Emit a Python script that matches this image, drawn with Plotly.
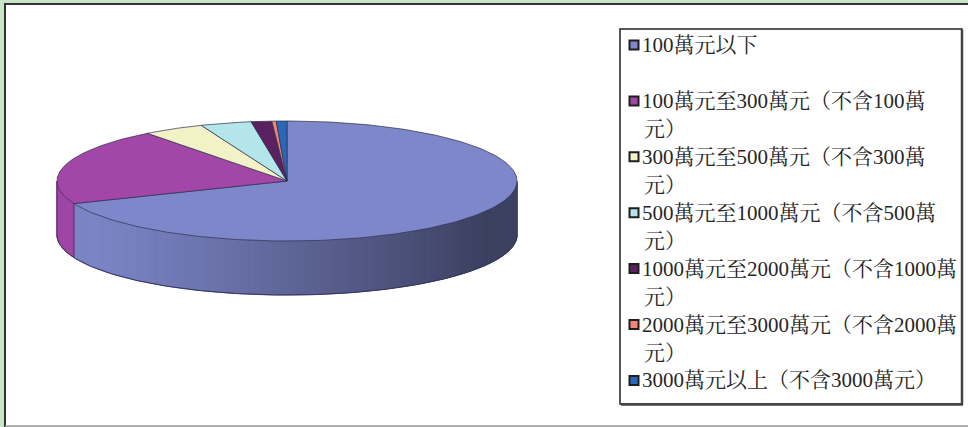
import numpy as np
import plotly.graph_objects as go

# ---- data ----
categories = [
    "100萬元以下",
    "100萬元至300萬元（不含100萬元）",
    "300萬元至500萬元（不含300萬元）",
    "500萬元至1000萬元（不含500萬元）",
    "1000萬元至2000萬元（不含1000萬元）",
    "2000萬元至3000萬元（不含2000萬元）",
    "3000萬元以上（不含3000萬元）",
]
legend_lines = [
    ["100萬元以下"],
    ["100萬元至300萬元（不含100萬", "元）"],
    ["300萬元至500萬元（不含300萬", "元）"],
    ["500萬元至1000萬元（不含500萬", "元）"],
    ["1000萬元至2000萬元（不含1000萬", "元）"],
    ["2000萬元至3000萬元（不含2000萬", "元）"],
    ["3000萬元以上（不含3000萬元）"],
]
shares = [69.0, 20.8, 4.3, 3.6, 1.45, 0.3, 0.75]   # percent
colors = ["#7d87c9", "#a247a8", "#f3f1c6", "#b3e5ea", "#5a2060", "#ef8676", "#2a67b6"]

# ---- geometry (pixel space) ----
W, H = 968, 427
cx, cy, rx, ry, depth = 287, 181, 230, 60, 54


def hex2rgb(h):
    h = h.lstrip("#")
    return np.array([int(h[i:i + 2], 16) for i in (0, 2, 4)], dtype=float)


def rgb2str(c):
    c = np.clip(c, 0, 255).astype(int)
    return f"rgb({c[0]},{c[1]},{c[2]})"


def ell(theta_deg, dy=0.0):
    th = np.radians(theta_deg)
    return cx + rx * np.sin(th), cy - ry * np.cos(th) + dy


vals = np.array(shares, dtype=float)
cum = np.concatenate([[0], np.cumsum(vals / vals.sum() * 360.0)])

fig = go.Figure()

# side walls (visible front half: 90..270 degrees)
for i, col in enumerate(colors):
    a, b = max(cum[i], 90.0), min(cum[i + 1], 270.0)
    if b <= a:
        continue
    base = hex2rgb(col)
    n = max(1, int(np.ceil((b - a) / 1.5)))
    edges = np.linspace(a, b, n + 1)
    for k in range(n):
        t0, t1 = edges[k], edges[k + 1]
        tm = 0.5 * (t0 + t1)
        t = (1 + np.sin(np.radians(tm))) / 2.0
        f = np.clip((t - 0.08) / 0.85, 0, 1) ** 1.15
        c = rgb2str(base * (0.98 - 0.50 * f))
        th = np.linspace(t0, t1, 4)
        xt, yt = ell(th)
        xb, yb = ell(th[::-1], depth)
        fig.add_trace(go.Scatter(
            x=np.concatenate([xt, xb, xt[:1]]), y=np.concatenate([yt, yb, yt[:1]]),
            mode="lines", fill="toself", fillcolor=c,
            line=dict(color=c, width=1), hoverinfo="skip", showlegend=False))

# side outline
th = np.linspace(90, 270, 200)
xb, yb = ell(th, depth)
fig.add_trace(go.Scatter(x=xb, y=yb, mode="lines", line=dict(color="#34365c", width=1),
                         hoverinfo="skip", showlegend=False))
for ang in [cum[1], 270.0]:
    x0, y0 = ell(ang)
    x1, y1 = ell(ang, depth)
    fig.add_trace(go.Scatter(x=[x0, x1], y=[y0, y1], mode="lines",
                             line=dict(color="#3a2e5c", width=0.8),
                             hoverinfo="skip", showlegend=False))

# top faces
for i, col in enumerate(colors):
    th = np.linspace(cum[i], cum[i + 1], max(3, int((cum[i + 1] - cum[i]) / 1.0) + 2))
    xt, yt = ell(th)
    fig.add_trace(go.Scatter(
        x=np.concatenate([[cx], xt, [cx]]), y=np.concatenate([[cy], yt, [cy]]),
        mode="lines", fill="toself", fillcolor=col,
        line=dict(color="#2c2c4e", width=0.7), name=categories[i],
        hoverinfo="skip", showlegend=False))

# legend (drawn manually to match the original box)
row0, row_step, line_step = 45, 55.9, 28
sq_x, txt_x = 634, 640
row_y = [row0 + row_step * i for i in range(len(categories))]
fig.add_trace(go.Scatter(
    x=[sq_x] * len(categories), y=row_y, mode="markers",
    marker=dict(symbol="square", size=9, color=colors, line=dict(color="#1e1e1e", width=2)),
    hoverinfo="skip", showlegend=False))

annotations = []
for i, lines in enumerate(legend_lines):
    for j, txt in enumerate(lines):
        annotations.append(dict(
            x=txt_x + (2 if j else 0), y=row_y[i] + j * line_step, xref="x", yref="y",
            text=txt, showarrow=False, xanchor="left", yanchor="middle",
            font=dict(family="Liberation Serif, Noto Serif CJK TC, Noto Sans CJK TC",
                      size=21, color="#262626")))

shapes = [
    dict(type="rect", x0=5, y0=4, x1=W + 2, y1=426, fillcolor="white",
         line=dict(width=0), layer="below", xref="x", yref="y"),
    dict(type="line", x0=5, y0=4, x1=5, y1=H + 2, line=dict(color="#333333", width=2),
         xref="x", yref="y"),
    dict(type="line", x0=4, y0=4, x1=W + 2, y1=4, line=dict(color="#333333", width=2),
         xref="x", yref="y"),
    dict(type="line", x0=5, y0=426, x1=W + 2, y1=426, line=dict(color="#9a9a9a", width=1.5),
         xref="x", yref="y"),
    dict(type="rect", x0=620, y0=29, x1=962, y1=404, line=dict(color="#222222", width=1.5),
         xref="x", yref="y"),
    dict(type="line", x0=962, y0=30, x1=962, y1=405, line=dict(color="#444444", width=2.5),
         xref="x", yref="y"),
    dict(type="line", x0=621, y0=404.5, x1=963, y1=404.5, line=dict(color="#444444", width=2.5),
         xref="x", yref="y"),
]

fig.update_layout(
    width=W, height=H, margin=dict(l=0, r=0, t=0, b=0, pad=0),
    paper_bgcolor="#c9e5c7", plot_bgcolor="#c9e5c7",
    xaxis=dict(range=[0, W], visible=False, fixedrange=True),
    yaxis=dict(range=[H, 0], visible=False, fixedrange=True),
    shapes=shapes, annotations=annotations, showlegend=False,
)

fig.write_html(
    "out.html",
    config={"displayModeBar": False},
    post_script="document.body.style.margin='0';document.body.style.overflow='hidden';",
)
